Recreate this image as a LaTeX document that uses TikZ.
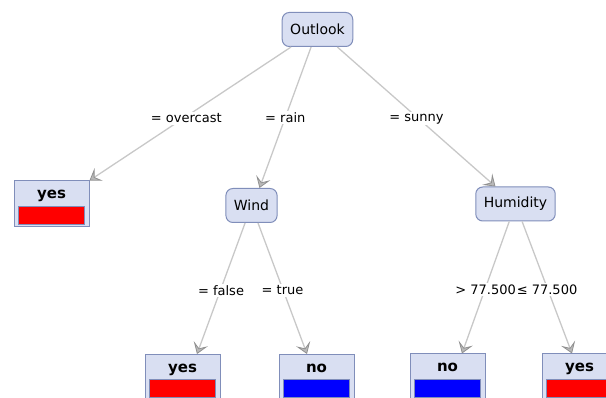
\documentclass[tikz,border=0pt]{standalone}
\usepackage{fontspec}
\setmainfont{DejaVu Sans}
\usepackage{tikz}
\usetikzlibrary{arrows.meta,positioning}
\definecolor{nodefill}{RGB}{217,223,242}
\definecolor{nodeborder}{RGB}{128,142,186}
\definecolor{edgegray}{RGB}{200,200,200}
\definecolor{tipgray}{RGB}{145,145,145}
\definecolor{tipfill}{RGB}{185,185,185}

\begin{document}
\begin{tikzpicture}[
  attr/.style={draw=nodeborder, fill=nodefill, rounded corners=7pt, line width=1pt, minimum height=34pt, inner xsep=8pt, font=\fontsize{14}{16}\selectfont},
  leaf/.style={draw=nodeborder, fill=nodefill, line width=1pt, minimum width=75pt, inner xsep=0pt, inner ysep=0pt, text height=18pt, text depth=28pt, font=\fontsize{15}{17}\selectfont\bfseries,
    path picture={\draw[fill=#1, line width=0.9pt] ([xshift=4.5pt, yshift=3pt]path picture bounding box.south west) rectangle ([xshift=-4.5pt, yshift=21pt]path picture bounding box.south east);}},
  branch/.style={draw=edgegray, line width=1.3pt, -{Stealth[length=11pt, width=15pt, inset=5pt, color=tipgray, fill=tipfill, line width=0.8pt]}},
  cond/.style={fill=white, inner sep=1.5pt, yshift=-2pt, font=\fontsize{13}{15}\selectfont},
]
  \useasboundingbox (0,0) rectangle (606pt,-398pt);
  \clip (0,0) rectangle (606pt,-398pt);

  \node[attr] (outlook) at (317.5pt,-29.5pt) {Outlook};
  \node[leaf=red, below=133.5pt of outlook, xshift=-266pt] (overcast) {yes};
  \node[attr, below=141pt of outlook, xshift=-66pt] (wind) {Wind};
  \node[attr, below=139.5pt of outlook, xshift=198pt] (humidity) {Humidity};
  \node[leaf=red, below=131pt of wind, xshift=-69pt] (windfalse) {yes};
  \node[leaf=blue, below=131pt of wind, xshift=65pt] (windtrue) {no};
  \node[leaf=blue, below=132pt of humidity, xshift=-68pt] (humhigh) {no};
  \node[leaf=red, below=132pt of humidity, xshift=64pt] (humlow) {yes};

  \draw[branch] (outlook) -- (overcast.north east) node[cond, pos=0.52] {= overcast};
  \draw[branch] (outlook) -- ([xshift=8pt]wind.north) node[cond, midway, yshift=2pt] {= rain};
  \draw[branch] (outlook) -- ([xshift=-20pt]humidity.north) node[cond, midway] {= sunny};
  \draw[branch] (wind) -- ([xshift=14.5pt]windfalse.north) node[cond, midway] {= false};
  \draw[branch] (wind) -- ([xshift=-9.5pt]windtrue.north) node[cond, midway] {= true};
  \draw[branch] (humidity) -- ([xshift=14.5pt]humhigh.north) node[cond, midway] {> 77.500};
  \draw[branch] (humidity) -- ([xshift=-7.5pt]humlow.north) node[cond, midway] {≤ 77.500};
\end{tikzpicture}
\end{document}
